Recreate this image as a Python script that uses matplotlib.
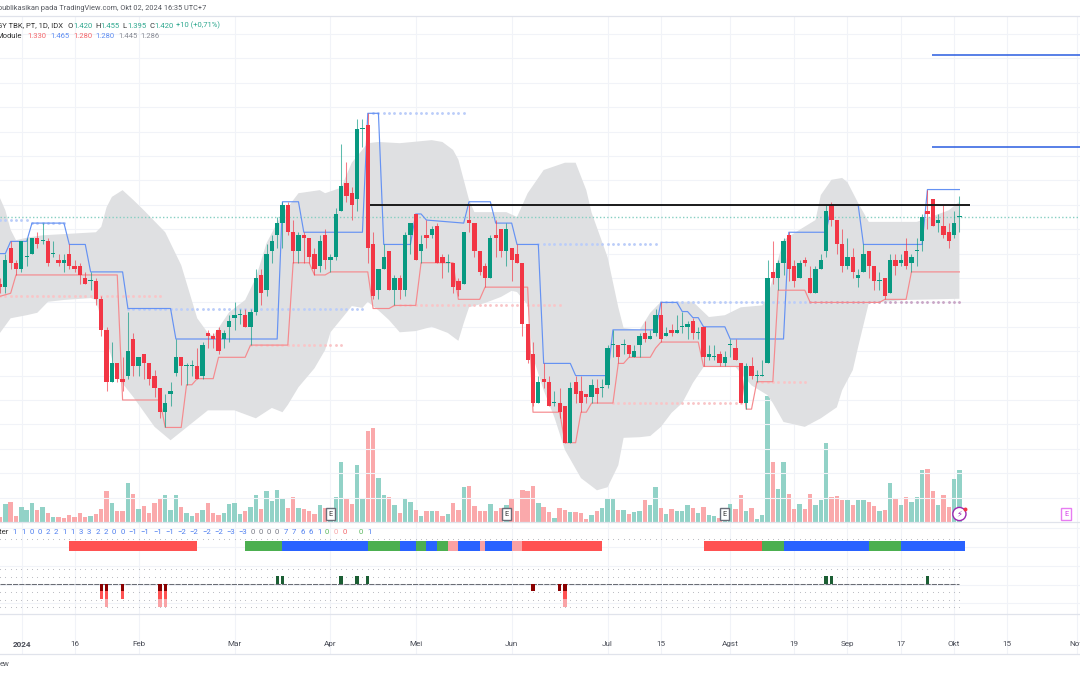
import matplotlib
matplotlib.use("Agg")
import matplotlib.pyplot as plt

plt.rcParams['font.family'] = ['Roboto', 'DejaVu Sans']

# ---------- data (prices in rupiah) ----------
OPEN = [1310,1305,1370,1345,1335,1355,1360,1385,1380,1380,
1360,1350,1345,1360,1340,1340,1320,1315,1315,1285,
1235,1150,1180,1155,1160,1220,1175,1195,1180,1160,
1140,1100,1130,1165,1190,1175,1175,1175,1160,1230,
1225,1235,1220,1240,1255,1260,1260,1240,1265,1325,
1300,1365,1390,1410,1440,1395,1365,1390,1385,1360,
1340,1390,1350,1355,1430,1475,1460,1450,1565,1570,
1375,1300,1335,1365,1300,1320,1300,1390,1425,1365,
1390,1390,1405,1355,1345,1345,1315,1310,1415,1410,
1365,1340,1320,1390,1400,1365,1370,1360,1345,1245,
1195,1115,1155,1150,1115,1115,1110,1050,1150,1135,
1130,1125,1140,1140,1145,1210,1210,1210,1210,1190,
1210,1230,1220,1230,1260,1225,1235,1230,1240,1240,
1250,1230,1240,1190,1190,1195,1180,1210,1205,1180,
1115,1175,1160,1160,1180,1330,1320,1345,1390,1340,
1320,1350,1320,1295,1335,1365,1440,1415,1375,1340,
1355,1320,1330,1365,1340,1315,1320,1295,1350,1345,
1365,1345,1365,1380,1430,1450,1410,1405,1395,1390,1420]
HIGH = [1320,1360,1380,1350,1380,1385,1385,1395,1410,1385,
1380,1360,1360,1375,1350,1345,1330,1330,1320,1290,
1240,1215,1180,1190,1265,1230,1190,1195,1180,1170,
1140,1130,1150,1220,1190,1180,1185,1205,1215,1235,
1230,1240,1235,1260,1280,1270,1270,1270,1335,1335,
1375,1390,1420,1445,1445,1415,1395,1395,1385,1370,
1390,1400,1360,1435,1540,1510,1470,1580,1580,1590,
1395,1335,1375,1365,1325,1325,1395,1410,1425,1390,
1415,1405,1410,1360,1360,1345,1320,1395,1440,1410,
1365,1345,1390,1415,1400,1410,1370,1375,1345,1245,
1215,1160,1180,1160,1135,1140,1110,1150,1160,1160,
1130,1155,1155,1155,1210,1235,1210,1220,1210,1210,
1230,1250,1235,1270,1280,1240,1245,1260,1265,1250,
1255,1240,1240,1210,1210,1200,1200,1220,1220,1180,
1180,1190,1170,1185,1350,1380,1350,1385,1395,1350,
1350,1355,1340,1340,1360,1440,1445,1415,1400,1385,
1370,1335,1375,1365,1340,1330,1320,1360,1360,1360,
1385,1360,1385,1425,1465,1450,1425,1440,1410,1430,1455]
LOW = [1295,1295,1335,1325,1330,1340,1360,1370,1375,1340,
1355,1340,1330,1335,1330,1310,1310,1300,1275,1225,
1135,1150,1150,1135,1155,1160,1160,1155,1145,1125,
1090,1075,1110,1160,1145,1145,1160,1155,1155,1205,
1205,1195,1205,1215,1235,1245,1240,1210,1260,1275,
1290,1345,1370,1370,1390,1345,1345,1345,1345,1325,
1330,1335,1330,1350,1430,1445,1415,1430,1535,1345,
1285,1285,1335,1300,1275,1285,1290,1360,1350,1345,
1370,1385,1345,1320,1330,1295,1290,1310,1395,1355,
1325,1305,1320,1355,1355,1340,1315,1345,1225,1180,
1110,1115,1140,1110,1110,1090,1050,1050,1115,1100,
1115,1115,1115,1125,1140,1190,1180,1195,1190,1190,
1190,1215,1220,1225,1215,1225,1225,1230,1230,1220,
1220,1220,1175,1185,1185,1175,1175,1190,1185,1115,
1105,1155,1150,1160,1180,1310,1300,1325,1315,1305,
1320,1340,1295,1295,1335,1355,1405,1360,1330,1335,
1320,1305,1330,1320,1300,1300,1285,1295,1325,1340,
1335,1330,1340,1365,1400,1405,1395,1385,1370,1385,1395]
CLOSE = [1305,1350,1345,1335,1380,1355,1385,1375,1380,1345,
1360,1345,1350,1340,1335,1325,1310,1315,1285,1235,
1150,1180,1155,1150,1200,1175,1190,1180,1155,1140,
1100,1115,1135,1190,1175,1175,1175,1155,1210,1225,
1220,1200,1230,1250,1260,1260,1240,1265,1320,1295,
1360,1380,1410,1440,1395,1365,1390,1385,1355,1335,
1380,1350,1355,1425,1470,1455,1440,1565,1565,1370,
1290,1335,1355,1300,1320,1300,1390,1410,1350,1375,
1385,1400,1345,1345,1345,1305,1300,1395,1410,1365,
1330,1320,1385,1385,1365,1400,1350,1345,1245,1185,
1115,1150,1150,1110,1115,1100,1050,1140,1130,1115,
1125,1145,1130,1140,1205,1210,1190,1210,1195,1200,
1225,1220,1225,1260,1220,1230,1230,1235,1240,1245,
1230,1230,1190,1195,1190,1180,1190,1210,1185,1115,
1175,1160,1160,1160,1320,1320,1345,1380,1335,1315,
1345,1345,1295,1335,1350,1430,1415,1375,1340,1355,
1330,1325,1360,1340,1315,1315,1290,1350,1340,1350,
1340,1355,1365,1420,1425,1405,1415,1390,1380,1410,1420]

VOLUME = [14,54,60,17,45,35,57,37,45,27,
14,16,12,22,16,27,14,19,24,40,
94,58,34,34,117,84,40,47,28,56,
73,80,36,80,46,27,17,28,36,58,
28,22,28,54,58,25,32,46,80,38,
93,64,96,70,43,74,43,38,32,25,
52,42,30,74,180,69,54,172,70,274,
282,132,80,75,52,28,73,61,37,17,
32,34,32,17,25,56,36,104,109,49,
32,34,54,32,42,52,70,34,97,94,
108,58,45,30,13,41,36,30,31,26,
10,22,34,42,73,71,36,36,25,31,
33,66,51,106,41,25,40,32,34,52,
41,28,44,21,19,12,22,54,39,82,
34,42,10,21,378,180,100,181,84,40,
54,40,85,51,65,237,76,79,65,67,
52,65,67,60,49,32,37,117,69,51,
75,60,75,157,160,93,51,81,45,128,156]
VOLUME_DIR = ("rgrrgggrgr" "grrrrrrgrr" "rgrrgrgrrr" "rgggrggrgr" "rrggggrggr"
              "ggggrrgrrr" "grgggrrggr" "rggrgrggrg" "rgrrgrrgrr" "rrgrrgrrrr"
              "rgrrgrrgrr" "rgrgggrgrg" "grggrgrggg" "rgrggrggrr" "grgggrggrr"
              "grrgggrrrg" "rggrrgrgrg" "rgggrrgrrgg")

BB_UPPER_IDX = [0,1,2,3,5,8,18,19,20,21,23,25,27,31,34,37,39,40,43,46,48,50,53,54,56,60,61,64,66,69,71,75,81,83,85,86,87,88,89,91,95,97,99,102,106,108,110,111,114,116,117,120,122,124,130,133,136,139,143,144,145,147,150,153,154,156,158,159,161,163,166,172,174,178,180]
BB_UPPER = [1451,1431,1399,1382,1386,1390,1395,1404,1436,1453,1464,1448,1431,1395,1341,1254,1230,1225,1264,1284,1320,1377,1427,1436,1459,1464,1459,1468,1509,1541,1543,1541,1546,1543,1530,1514,1481,1448,1428,1428,1428,1420,1459,1497,1509,1509,1464,1427,1354,1272,1238,1235,1263,1281,1281,1256,1259,1272,1275,1289,1320,1382,1399,1415,1456,1481,1484,1477,1443,1412,1412,1412,1418,1431,1445]
BB_LOWER_IDX = [0,2,5,7,8,9,12,17,18,20,22,25,29,32,36,39,44,48,51,53,54,56,59,61,62,65,66,68,69,71,73,75,78,81,84,86,87,88,91,94,96,97,99,100,102,104,106,109,112,114,116,117,120,122,124,126,128,130,132,138,141,144,145,147,151,154,157,158,160,161,163,170,180]
BB_LOWER = [1230,1254,1259,1263,1272,1281,1284,1287,1284,1218,1158,1125,1076,1054,1082,1103,1103,1090,1107,1100,1112,1141,1172,1202,1231,1263,1274,1271,1281,1267,1251,1231,1233,1240,1230,1217,1246,1272,1279,1289,1299,1297,1276,1190,1136,1092,1038,992,972,977,1013,1058,1059,1061,1076,1099,1115,1148,1174,1174,1144,1128,1115,1084,1076,1090,1108,1136,1169,1207,1279,1284,1286]

RES_IDX = [0,1,2,5,6,12,13,16,17,23,24,32,33,52,53,56,57,68,69,71,72,77,78,79,80,87,88,92,93,96,97,101,102,107,108,114,115,123,124,127,128,129,130,131,132,136,137,147,148,155,156,161,162,173,174,180]
RES = [1360,1360,1380,1380,1410,1410,1375,1375,1330,1330,1270,1270,1220,1220,1445,1445,1395,1395,1590,1590,1375,1375,1425,1425,1415,1410,1445,1445,1410,1410,1375,1375,1180,1180,1160,1160,1235,1235,1280,1280,1265,1265,1255,1255,1240,1240,1220,1220,1395,1395,1440,1440,1375,1375,1465,1465]
SUP_IDX = [0,2,3,22,23,30,31,34,35,36,37,40,41,46,47,54,55,58,59,61,62,69,70,73,74,78,79,85,86,90,91,99,100,105,106,108,109,110,111,115,116,117,118,122,123,124,131,132,139,140,141,142,145,146,151,152,165,166,170,171,180]
SUP = [1290,1295,1325,1325,1120,1120,1075,1075,1145,1145,1155,1155,1190,1190,1210,1210,1345,1345,1325,1325,1330,1330,1270,1270,1275,1275,1345,1345,1285,1285,1305,1305,1100,1100,1050,1050,1100,1100,1115,1115,1180,1180,1190,1190,1205,1215,1215,1175,1175,1105,1105,1150,1150,1300,1300,1280,1280,1285,1285,1330,1330]

# dotted extensions: level, first bar, last bar
DOTS_RES = [(1415,0,5),(1410,6,12),(1270,24,68),(1590,70,87),(1375,101,123),(1280,124,151)]
DOTS_SUP = [(1290,0,30),(1210,47,64),(1275,74,105),(1115,115,139),(1150,142,151)]
DOTS_MIX = [(1280,152,180)]

BLACK_LEVEL = (1440, 69.4, 182)
TARGET_LEVELS = [1686, 1535]
TARGET_START = 174.9
LAST_PRICE = 1420

TICK_IDX = [4.1,14,26,44,62,78,96,114,124,137,149,159,169,179,189,202]
TICK_LABELS = ["2024","16","Feb","Mar","Apr","Mei","Jun","Jul","15","Agst","19","Sep","17","Okt","15","Nov"]
PRICE_GRID = list(range(960, 1760, 40))

COUNTER_POS = [2.8,4.4,5.9,7.4,8.9,10.5,12.1,13.6,15.25,16.75,18.3,19.9,21.4,23,24.9,27.2,29.6,31.9,34.1,36.4,38.75,41,43.25,45.5,47.4,49,50.5,52,53.6,55.2,56.75,58.3,59.9,61.4,63,64.6,67.7,69.25]
COUNTER_TXT = ["1","1","0","0","2","2","1","1","3","3","2","2","0","0","−1","−1","−1","−1","−2","−2","−2","−2","−3","−3","0","0","0","0","7","7","6","6","1","0","0","0","0","1"]
COUNTER_COL = list("bbbbbbbbbbbbbbbbbbbbbbbbkkkkbbbbbgprgb")

BAND_START = [13,46,53,69,75,78,80,82,84,86,90,91,96,98,132,143,147,163,169]
BAND_END   = [37,53,69,75,78,80,82,84,86,90,91,96,98,113,143,147,163,169,181]
BAND_KIND  = list("rgbgbgbgpbpbprrgbgb")

SIGNAL_UP = [52,53,64,67,69,155,156,174]
SIGNAL_DOWN_IDX = [19,20,23,30,31,100,105,106]
SIGNAL_DOWN_DEPTH = [2,3,2,3,3,1,1,3]

EARNINGS_IDX = [62,95,136]
EARNINGS_FUTURE = 200

# ---------- styling ----------
W, H = 1080, 675
UPC, DNC = "#089981", "#F23645"
VUP, VDN = "#92D2C7", "#FAA9AB"
BLUE, SRED = "#6592F3", "#F58A8E"
GRID = "#F1F3F8"
SEP = "#E0E3EB"
XMAX = W / 5.33

def pane(top, bottom, **kw):
    return fig.add_axes([0, 1 - bottom / H, 1, (bottom - top) / H], **kw)

def px(x, y):
    return x / W, 1 - y / H

fig = plt.figure(figsize=(W / 100, H / 100), dpi=100, facecolor="white")

# volume underlay
ax_vol = pane(16, 522)
ax_vol.set_xlim(0, XMAX)
ax_vol.set_ylim(0, (522 - 16) * 3)
ax_vol.set_xticks(TICK_IDX)
ax_vol.set_yticks([])
ax_vol.grid(axis="x", color=GRID, lw=0.8)
ax_vol.set_axisbelow(True)
ax_vol.tick_params(length=0, labelbottom=False)
for s in ax_vol.spines.values():
    s.set_visible(False)
bars_x = list(range(len(VOLUME)))
ax_vol.bar(bars_x, VOLUME, width=0.82,
           color=[VUP if k == "g" else VDN for k in VOLUME_DIR], zorder=2)

# price pane
ax = pane(16, 522)
ax.patch.set_alpha(0)
ax.set_xlim(0, XMAX)
scale = 0.61
ax.set_ylim(1420 - (522 - 217) / scale, 1420 + (217 - 16) / scale)
ax.set_xticks([])
ax.set_yticks(PRICE_GRID)
ax.grid(axis="y", color=GRID, lw=0.8)
ax.set_axisbelow(True)
ax.tick_params(length=0, labelleft=False, labelbottom=False)
for s in ax.spines.values():
    s.set_visible(False)

ax_vol.set_zorder(1)
ax.set_zorder(2)

# Bollinger band polygon
poly_x = BB_UPPER_IDX + BB_LOWER_IDX[::-1]
poly_y = BB_UPPER + BB_LOWER[::-1]
ax.fill(poly_x, poly_y, color="#DFE0E2", lw=0, zorder=1)

# last price
ax.axhline(LAST_PRICE, color="#86CFC2", lw=1.0, ls=(0, (1, 1.6)), zorder=2)

# dotted levels
for rows, col in ((DOTS_RES, "#BBCDF9"), (DOTS_SUP, "#F9C5C7"), (DOTS_MIX, "#C9A6C6")):
    for lvl, a, b in rows:
        xs = list(range(a, b + 1))
        ax.scatter(xs, [lvl] * len(xs), s=4.2, color=col, lw=0, zorder=2.5)

# step lines
ax.plot(RES_IDX, RES, color=BLUE, lw=0.85, zorder=3)
ax.plot(SUP_IDX, SUP, color=SRED, lw=0.85, zorder=3)

# candles
for i, (o, h, l, c) in enumerate(zip(OPEN, HIGH, LOW, CLOSE)):
    col = UPC if c >= o else DNC
    ax.vlines(i, l, h, color=col, lw=0.75, alpha=0.65, zorder=4)
    lo, hi = min(o, c), max(o, c)
    ax.bar(i, max(hi - lo, 1.6), bottom=lo, width=0.8, color=col, lw=0, zorder=5)

# horizontal drawings
ax.hlines(BLACK_LEVEL[0], BLACK_LEVEL[1], BLACK_LEVEL[2], color="#1A1A1A", lw=1.4, zorder=6)
ax.hlines(TARGET_LEVELS, TARGET_START, XMAX, color="#2A5CE0", lw=1.1, zorder=6)

# earnings flags
for i in EARNINGS_IDX:
    ax_vol.text(i, 24, "E", ha="center", va="center", fontsize=5.2, color="#333333", zorder=8,
                bbox=dict(boxstyle="square,pad=0.35", fc="white", ec="#6A6D78", lw=1))
ax_vol.text(EARNINGS_FUTURE, 24, "E", ha="center", va="center", fontsize=5.2, color="#D63CE8", zorder=8,
            bbox=dict(boxstyle="square,pad=0.35", fc="white", ec="#E77CF2", lw=1))
ax_vol.text(180, 24, "⚡", ha="center", va="center", fontsize=6, color="#9C27B0", zorder=8,
            family=["DejaVu Sans"],
            bbox=dict(boxstyle="circle,pad=0.25", fc="white", ec="#9C27B0", lw=1))
ax_vol.scatter([181], [38], s=8, color="#F23645", zorder=9, lw=0)

# counter pane
ax_c = pane(522, 555)
ax_c.set_xlim(0, XMAX)
ax_c.set_ylim(33, 0)
ax_c.set_xticks(TICK_IDX)
ax_c.set_yticks([6, 25])
ax_c.grid(color=GRID, lw=0.8)
ax_c.set_axisbelow(True)
ax_c.tick_params(length=0, labelleft=False, labelbottom=False)
ax_c.patch.set_alpha(0)
for s in ax_c.spines.values():
    s.set_visible(False)
txt_col = {"b": "#4E7FF0", "k": "#787B86", "g": "#5CB860", "p": "#F7A6A8", "r": "#F4686C"}
for p, t, k in zip(COUNTER_POS, COUNTER_TXT, COUNTER_COL):
    ax_c.text(p, 9.8, t, ha="center", va="center", fontsize=5.6, color=txt_col[k])
ax_c.text(1.6, 9.8, "Counter", ha="right", va="center", fontsize=5.6, color="#333333",
          clip_on=True)
xs_all = list(range(0, 181))
ax_c.scatter(xs_all, [17] * len(xs_all), s=0.6, color="#B4B6BD", lw=0)
band_col = {"r": "#FF5252", "g": "#4CAF50", "b": "#2962FF", "p": "#FAA1A4"}
for a, b, k in zip(BAND_START, BAND_END, BAND_KIND):
    ax_c.broken_barh([(a, b - a)], (19, 10.5), color=band_col[k], lw=0)

# signal pane
ax_s = pane(555, 614)
ax_s.set_xlim(0, XMAX)
ax_s.set_ylim(-3.88, 3.88)
ax_s.set_xticks(TICK_IDX)
ax_s.set_yticks([-2.4, 0, 2.4])
ax_s.grid(color=GRID, lw=0.8)
ax_s.set_axisbelow(True)
ax_s.tick_params(length=0, labelleft=False, labelbottom=False)
ax_s.patch.set_alpha(0)
for s in ax_s.spines.values():
    s.set_visible(False)
for lvl in (2, 1, -1, -2, -3):
    ax_s.scatter(xs_all, [lvl] * len(xs_all), s=0.6, color="#B4B6BD", lw=0)
ax_s.hlines(0.1, 0, 180, color="#6A6D75", lw=0.75, ls=(0, (5, 1)))
ax_s.bar(SIGNAL_UP, [1] * len(SIGNAL_UP), width=0.62, bottom=0.1, color="#1B5E33", lw=0, zorder=3)
depth_col = ["#8B0000", "#FF5252", "#F9A3A6"]
for i, d in zip(SIGNAL_DOWN_IDX, SIGNAL_DOWN_DEPTH):
    for k in range(d):
        ax_s.bar(i, -1, width=0.62, bottom=0.1 - k, color=depth_col[k], lw=0, zorder=3)

# time axis
ax_t = pane(614, 654)
ax_t.set_xlim(0, XMAX)
ax_t.set_ylim(0, 1)
ax_t.set_xticks(TICK_IDX)
ax_t.set_xticklabels(TICK_LABELS, fontsize=5.9, color="#4A4D57")
ax_t.get_xticklabels()[0].set_fontweight("bold")
ax_t.set_yticks([])
ax_t.grid(axis="x", color=GRID, lw=0.8)
ax_t.set_axisbelow(True)
ax_t.tick_params(length=0, pad=-9.4)
for s in ax_t.spines.values():
    s.set_visible(False)
ax_t.patch.set_alpha(0)

# pane separators
for y in (16, 522, 614, 654):
    fig.add_artist(plt.Line2D([0, 1], [1 - y / H] * 2, color=SEP, lw=0.9))

# header text
GREY = "#55585F"
fig.text(*px(206, 9), "publikasikan pada TradingView.com, Okt 02, 2024 16:35 UTC+7",
         fontsize=5.35, color=GREY, va="center", ha="right")
TG = "#2FA88F"
fig.text(*px(63, 25.5), "GY TBK, PT, 1D, IDX", fontsize=5.5, color="#333333", va="center", ha="right")
header = [(68, "O", "#333333"), (73, "1.420", TG), (95, "H", "#333333"), (100, "1.455", TG),
          (122, "L", "#333333"), (127, "1.395", TG), (149, "C", "#333333"), (154, "1.420", TG),
          (176, "+10 (+0,71%)", TG)]
for x, t, c in header:
    fig.text(*px(x, 25.5), t, fontsize=5.5, color=c, va="center")
fig.text(*px(22, 36), "Module", fontsize=5.5, color="#333333", va="center", ha="right")
mod = [(27, "1.330", "#F4686C"), (50, "1.465", "#5F8EF2"), (73, "1.280", "#F4686C"),
       (95, "1.280", "#5F8EF2"), (118, "1.445", "#8A8D96"), (140, "1.286", "#8A8D96")]
for x, t, c in mod:
    fig.text(*px(x, 36), t, fontsize=5.5, color=c, va="center")
fig.text(*px(0, 664), "ew", fontsize=5.5, color=GREY, va="center")

fig.savefig("out.png", dpi=100, facecolor="white")
